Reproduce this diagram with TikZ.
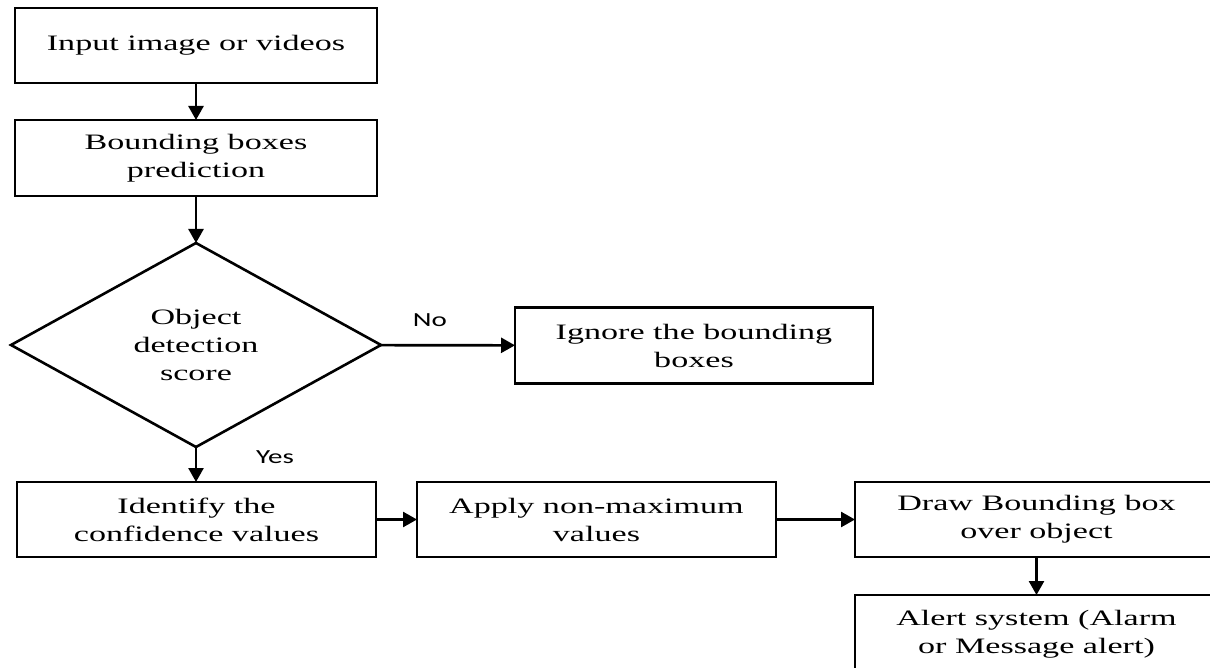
\documentclass[tikz,border=0pt]{standalone}
\usepackage{fontspec}
\setmainfont{Liberation Serif}[FakeStretch=1.55]
\newfontfamily\lblfont{Carlito}[FakeStretch=1.45]
\usetikzlibrary{shapes.geometric,arrows.meta}
\begin{document}
\begin{tikzpicture}[x=1pt,y=-1pt,
  txt/.style={font=\fontsize{22}{28}\selectfont},
  box/.style={txt,draw,line width=2.8pt,rectangle,align=center,inner sep=0pt,outer sep=0pt},
  dec/.style={txt,draw,line width=2.6pt,diamond,aspect=1.8,inner sep=0pt,outer sep=0pt,align=center},
  conn/.style={line width=2.6pt,-{Triangle[length=14pt,width=15pt]}},
  lbl/.style={font=\lblfont\fontsize{20}{24}\selectfont}]
\useasboundingbox (0,0) rectangle (1210,668);
\node[box,minimum width=362pt,minimum height=75pt] (in) at (196,45.5) {Input image or videos};
\node[box,minimum width=362pt,minimum height=76pt] (bb) at (196,158) {Bounding boxes\\prediction};
\node[dec,minimum width=370pt,minimum height=204pt] (obj) at (196,345) {Object\\detection\\score};
\node[box,minimum width=358pt,minimum height=76pt] (ign) at (694,345.5) {Ignore the bounding\\boxes};
\node[box,minimum width=359pt,minimum height=75pt] (idf) at (196.5,519.5) {Identify the\\confidence values};
\node[box,minimum width=359pt,minimum height=75pt] (nms) at (596.5,519.5) {Apply non-maximum\\values};
\node[box,minimum width=363pt,minimum height=75pt] (drw) at (1036.5,519.5) {Draw Bounding box\\over object};
\node[box,minimum width=363pt,minimum height=78pt] (alr) at (1036.5,634) {Alert system (Alarm\\or Message alert)};
\draw[conn] (in) -- (bb);
\draw[conn] (bb) -- (obj);
\draw[conn] (obj) -- (ign);
\draw[conn] (obj.south) -- (obj.south |- idf.north);
\draw[conn] (idf) -- (nms);
\draw[conn] (nms) -- (drw);
\draw[conn] (drw) -- (alr);
\node[lbl] (no) at (430,320) {No};
\node[lbl] (yes) at (275,457) {Yes};
\end{tikzpicture}
\end{document}
